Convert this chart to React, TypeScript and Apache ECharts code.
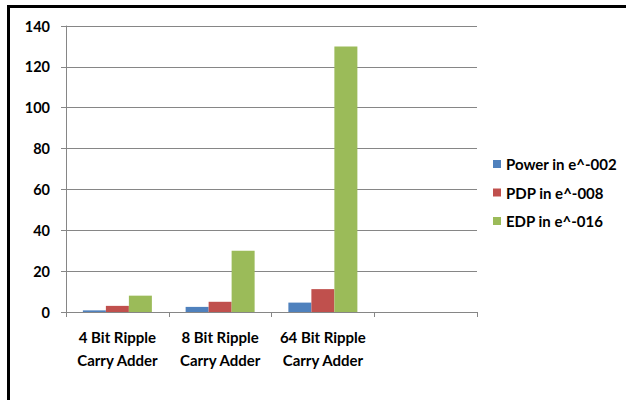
import React, { useEffect, useRef } from "react";
import * as echarts from "echarts";

// Adder variants along the category axis (last slot left empty)
const categories = [
  "4 Bit Ripple\nCarry Adder",
  "8 Bit Ripple\nCarry Adder",
  "64 Bit Ripple\nCarry Adder",
  "",
];

const seriesNames = ["Power in e^-002", "PDP in e^-008", "EDP in e^-016"];

const powerValues = [0.8, 2.5, 4.6, null];
const pdpValues = [3, 5, 11.2, null];
const edpValues = [8, 30, 130, null];

const yTicks = { min: 0, max: 140, interval: 20 };

const colors = ["#4F81BD", "#C0504D", "#9BBB59"];

const FONT = "Lato, 'Open Sans', sans-serif";
const GRID_COLOR = "#868686";

export default function App() {
  const ref = useRef<HTMLDivElement>(null);

  useEffect(() => {
    if (!ref.current) return;
    document.body.style.margin = "0";
    const chart = echarts.init(ref.current, undefined, { renderer: "svg" });

    const values = [powerValues, pdpValues, edpValues];

    chart.setOption({
      animation: false,
      backgroundColor: "#ffffff",
      textStyle: { fontFamily: FONT },
      grid: { left: 66, right: 149, top: 26, bottom: 88, containLabel: false },
      legend: {
        orient: "vertical",
        left: 493,
        top: 155,
        padding: 0,
        itemWidth: 8,
        itemHeight: 8,
        itemGap: 10.5,
        icon: "rect",
        data: seriesNames,
        textStyle: {
          fontFamily: FONT,
          fontWeight: "bold",
          fontSize: 15,
          color: "#000",
          lineHeight: 18,
        },
      },
      xAxis: {
        type: "category",
        data: categories,
        axisLine: { lineStyle: { color: GRID_COLOR, width: 1 } },
        axisTick: { show: true, length: 5, lineStyle: { color: GRID_COLOR } },
        axisLabel: {
          interval: 0,
          margin: 13,
          fontFamily: FONT,
          fontWeight: "bold",
          fontSize: 15,
          lineHeight: 23,
          color: "#000",
        },
      },
      yAxis: {
        type: "value",
        min: yTicks.min,
        max: yTicks.max,
        interval: yTicks.interval,
        axisLine: { show: true, lineStyle: { color: GRID_COLOR, width: 1 } },
        axisTick: { show: true, length: 5, lineStyle: { color: GRID_COLOR } },
        splitLine: { show: true, lineStyle: { color: GRID_COLOR, width: 1 } },
        axisLabel: {
          margin: 16,
          fontFamily: FONT,
          fontWeight: "bold",
          fontSize: 14.5,
          color: "#000",
        },
      },
      series: seriesNames.map((name, i) => ({
        name,
        type: "bar",
        data: values[i],
        barWidth: 23,
        barGap: "0%",
        itemStyle: { color: colors[i] },
      })),
      graphic: [
        {
          type: "rect",
          shape: { x: 8.5, y: 6.5, width: 700, height: 500 },
          style: { fill: "none", stroke: "#000", lineWidth: 3 },
          silent: true,
          z: 100,
        },
      ],
    });

    return () => chart.dispose();
  }, []);

  return (
    <div
      ref={ref}
      style={{ position: "absolute", left: 0, top: 0, width: 626, height: 400 }}
    />
  );
}
